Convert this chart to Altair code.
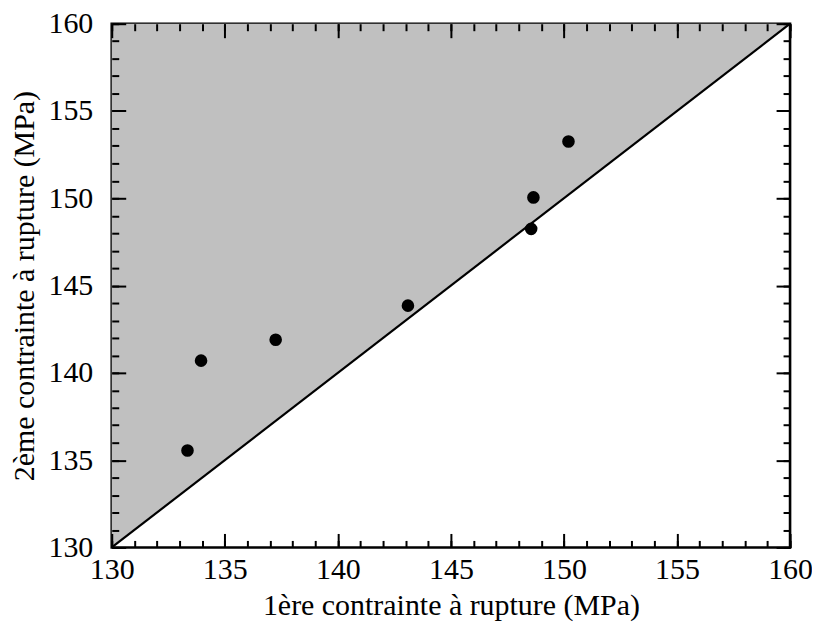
import altair as alt
import pandas as pd

# data
first_stress = [133.35, 133.95, 137.25, 143.1, 148.55, 148.65, 150.2]
second_stress = [135.55, 140.7, 141.9, 143.85, 148.25, 150.05, 153.25]
diag_vals = [130, 160]
major_ticks = [130, 135, 140, 145, 150, 155, 160]
minor_ticks = list(range(130, 161))

W, H = 680, 525
FONT = "Liberation Serif"
FS = 30

xs = alt.Scale(domain=[130, 160], nice=False, zero=False)
ys = alt.Scale(domain=[130, 160], nice=False, zero=False)

pts = pd.DataFrame({"x": first_stress, "y": second_stress})
diag = pd.DataFrame({"x": diag_vals, "y": diag_vals, "top": [diag_vals[1]] * len(diag_vals)})


def tick_axis(orient, offset, size, values):
    return alt.Axis(orient=orient, offset=offset, values=values, tickSize=size,
                    tickWidth=2, tickColor="black", labels=False, domain=False,
                    grid=False, title=None, zindex=1)


label_x = alt.Axis(orient="bottom", values=major_ticks, ticks=False, domain=False,
                   grid=False, labelFont=FONT, labelFontSize=FS, labelColor="black",
                   labelPadding=7, title="1ère contrainte à rupture (MPa)",
                   titleFont=FONT, titleFontSize=FS, titleFontWeight="normal",
                   titleColor="black", titlePadding=6, labelFlush=False)
label_y = alt.Axis(orient="left", values=major_ticks, ticks=False, domain=False,
                   grid=False, labelFont=FONT, labelFontSize=FS, labelColor="black",
                   labelPadding=19, title="2ème contrainte à rupture (MPa)",
                   titleFont=FONT, titleFontSize=FS, titleFontWeight="normal",
                   titleColor="black", titlePadding=8, labelFlush=False)

area = alt.Chart(diag).mark_area(color="#c0c0c0").encode(
    x=alt.X("x:Q", scale=xs, axis=label_x),
    y=alt.Y("y:Q", scale=ys, axis=label_y),
    y2="top",
)

line = alt.Chart(diag).mark_line(color="black", strokeWidth=2.2).encode(
    x=alt.X("x:Q", scale=xs, axis=tick_axis("top", -H, 14, major_ticks)),
    y=alt.Y("y:Q", scale=ys, axis=tick_axis("right", -W, 14, major_ticks)),
)

dots = alt.Chart(pts).mark_circle(color="black", size=160, opacity=1).encode(
    x=alt.X("x:Q", scale=xs, axis=tick_axis("top", -H, 7, minor_ticks)),
    y=alt.Y("y:Q", scale=ys, axis=tick_axis("right", -W, 7, minor_ticks)),
)

ghost1 = alt.Chart(pts).mark_point(opacity=0).encode(
    x=alt.X("x:Q", scale=xs, axis=tick_axis("bottom", -H, 14, major_ticks)),
    y=alt.Y("y:Q", scale=ys, axis=tick_axis("left", -W, 14, major_ticks)),
)

ghost2 = alt.Chart(pts).mark_point(opacity=0).encode(
    x=alt.X("x:Q", scale=xs, axis=tick_axis("bottom", -H, 7, minor_ticks)),
    y=alt.Y("y:Q", scale=ys, axis=tick_axis("left", -W, 7, minor_ticks)),
)

chart = alt.layer(area, line, dots, ghost1, ghost2).resolve_axis(
    x="independent", y="independent"
).properties(
    width=W, height=H,
    autosize=alt.AutoSizeParams(type="none"),
    padding={"left": 104, "top": 15, "right": 22, "bottom": 74},
    background="white",
).configure_view(stroke="black", strokeWidth=2.6)

chart.save("out.html", embed_options={"renderer": "svg", "actions": False})
